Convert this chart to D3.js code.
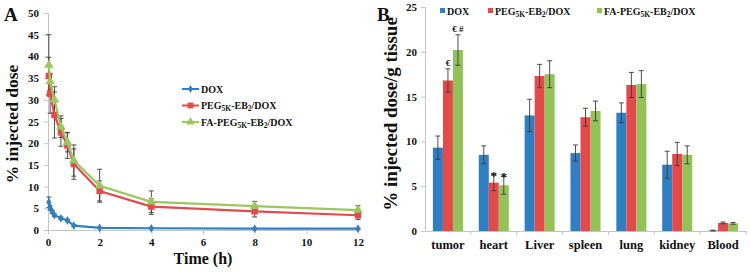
<!DOCTYPE html>
<html>
<head>
<meta charset="utf-8">
<script src="https://cdnjs.cloudflare.com/ajax/libs/d3/7.8.5/d3.min.js"></script>
<style>
  body { margin: 0; background: #fff; }
</style>
</head>
<body>
<svg id="chart" width="750" height="272"></svg>
<script>
// ---- Panel A data: % injected dose vs time ----
const timesDox = [0.033, 0.083, 0.167, 0.25, 0.5, 0.75, 1, 2, 4, 8, 12];
const doxA = [6.4, 5.1, 4.2, 3.4, 2.7, 2.2, 1.0, 0.5, 0.4, 0.3, 0.3];
const doxAErr = [1.2, 0.5, 0.4, 0.3, 0.3, 0.2, 0.2, 0.1, 0.1, 0.1, 0.1];
const timesPeg = [0.033, 0.083, 0.25, 0.5, 0.75, 1, 2, 4, 8, 12];
const pegA = [35.5, 31.4, 26.5, 22.5, 19.5, 15.2, 9.0, 5.4, 4.3, 3.4];
const pegAErr = [4.3, 4.5, 5.3, 3.2, 3.0, 3.5, 2.3, 1.8, 1.3, 1.0];
const faA = [38.0, 34.2, 30.0, 23.8, 20.2, 16.0, 10.2, 6.5, 5.5, 4.6];
const faAErr = [7.0, 1.8, 3.0, 2.5, 2.2, 3.6, 3.8, 2.5, 1.1, 1.0];
const yTicksA = [0, 5, 10, 15, 20, 25, 30, 35, 40, 45, 50];
const xTicksA = [0, 2, 4, 6, 8, 10, 12];

// ---- Panel B data: tissue distribution ----
const tissues = ["tumor", "heart", "Liver", "spleen", "lung", "kidney", "Blood"];
const doxB = [9.3, 8.5, 12.9, 8.7, 13.2, 7.4, 0.05];
const doxBErr = [1.3, 1.0, 1.8, 0.9, 1.1, 1.5, 0.05];
const pegB = [16.8, 5.4, 17.3, 12.7, 16.3, 8.6, 0.9];
const pegBErr = [1.3, 0.9, 1.3, 1.0, 1.4, 1.3, 0.1];
const faB = [20.2, 5.1, 17.5, 13.4, 16.4, 8.5, 0.85];
const faBErr = [1.7, 1.0, 1.5, 1.1, 1.5, 1.0, 0.1];
const yTicksB = [0, 5, 10, 15, 20, 25];
const marks = [
  {tissue: "tumor", series: "peg", label: "€", gap: -3},
  {tissue: "tumor", series: "fa", label: "€ #", gap: -3},
  {tissue: "heart", series: "peg", label: "*", gap: 5},
  {tissue: "heart", series: "fa", label: "*", gap: 5}
];

const blue = "#2f7fc2", red = "#e34a4c", green = "#93c259";
const lineGreen = "#9cc65e";
const gray = "#c4c4c4", errColor = "#3a3a3a";
const serif = "Liberation Serif";

const svg = d3.select("#chart");

// every text node gets the serif face explicitly
function txt(parent, size) {
  return parent.append("text")
    .attr("font-family", serif).attr("font-weight", "bold")
    .attr("font-size", size).attr("fill", "#111");
}

// legend label with subscripts: parts = [[text, isSub], ...]
function richText(sel, parts, size) {
  parts.forEach(([t, sub]) => {
    sel.append("tspan")
      .attr("font-size", sub ? size * 0.75 : size)
      .attr("baseline-shift", sub ? "-25%" : null)
      .text(t);
  });
}
const labelParts = {
  dox: [["DOX", false]],
  peg: [["PEG", false], ["5K", true], ["-EB", false], ["2", true], ["/DOX", false]],
  fa: [["FA-PEG", false], ["5K", true], ["-EB", false], ["2", true], ["/DOX", false]]
};

function styleAxis(a, size) {
  a.selectAll("path, line").attr("stroke", gray);
  a.selectAll("text").attr("fill", "#111")
    .attr("font-family", serif).attr("font-weight", "bold").attr("font-size", size);
}

// ================= Panel A =================
const xA = d3.scaleLinear().domain([0, 12]).range([48, 358]);
const yA = d3.scaleLinear().domain([0, 50]).range([230, 13]);

const gA = svg.append("g");
const axA = gA.append("g").attr("transform", `translate(${xA(0)},0)`)
  .call(d3.axisLeft(yA).tickValues(yTicksA).tickSize(4).tickPadding(5));
const axAx = gA.append("g").attr("transform", `translate(0,${yA(0)})`)
  .call(d3.axisBottom(xA).tickValues(xTicksA).tickSize(4).tickPadding(4));
styleAxis(axA, 11);
styleAxis(axAx, 11);

const seriesA = [
  {key: "dox", t: timesDox, v: doxA, e: doxAErr, color: blue, shape: d3.symbolDiamond, size: 22},
  {key: "peg", t: timesPeg, v: pegA, e: pegAErr, color: red, shape: d3.symbolSquare, size: 42},
  {key: "fa", t: timesPeg, v: faA, e: faAErr, color: lineGreen, shape: d3.symbolTriangle, size: 40}
];

// error bars first
seriesA.forEach(s => {
  const pts = s.t.map((t, i) => ({t, v: s.v[i], e: s.e[i]}));
  const eb = gA.append("g");
  eb.selectAll("line.v").data(pts).join("line")
    .attr("x1", d => xA(d.t)).attr("x2", d => xA(d.t))
    .attr("y1", d => yA(d.v - d.e)).attr("y2", d => yA(d.v + d.e))
    .attr("stroke", errColor).attr("stroke-width", 0.9);
  [1, -1].forEach(sg => {
    eb.append("g").selectAll("line").data(pts).join("line")
      .attr("x1", d => xA(d.t) - 2.5).attr("x2", d => xA(d.t) + 2.5)
      .attr("y1", d => yA(d.v + sg * d.e))
      .attr("y2", d => yA(d.v + sg * d.e))
      .attr("stroke", errColor).attr("stroke-width", 0.9);
  });
});

const lineA = d3.line().x(d => xA(d.t)).y(d => yA(d.v));
seriesA.forEach(s => {
  const pts = s.t.map((t, i) => ({t, v: s.v[i]}));
  gA.append("path").datum(pts)
    .attr("fill", "none").attr("stroke", s.color).attr("stroke-width", 2.2)
    .attr("d", lineA);
  gA.append("g").selectAll("path").data(pts).join("path")
    .attr("transform", d => `translate(${xA(d.t)},${yA(d.v)})`)
    .attr("d", d3.symbol(s.shape, s.size))
    .attr("fill", s.color);
});

// legend A
seriesA.forEach((s, i) => {
  const y = 89 + i * 16.5;
  gA.append("line").attr("x1", 182).attr("x2", 199).attr("y1", y).attr("y2", y)
    .attr("stroke", s.color).attr("stroke-width", 2);
  gA.append("path").attr("transform", `translate(190.5,${y})`)
    .attr("d", d3.symbol(s.shape, s.size * 0.8)).attr("fill", s.color);
  const t = txt(gA, 10).attr("x", 201).attr("y", y + 3.5);
  richText(t, labelParts[s.key], 10);
});

txt(gA, 16).attr("x", 203).attr("y", 264).attr("text-anchor", "middle")
  .text("Time (h)");
txt(gA, 17.5).attr("transform", "translate(18,124) rotate(-90)")
  .attr("text-anchor", "middle").text("% injected dose");
txt(gA, 19).attr("x", 4).attr("y", 21).text("A");

// ================= Panel B =================
const keys = ["dox", "peg", "fa"];
const valsB = {dox: doxB, peg: pegB, fa: faB};
const errsB = {dox: doxBErr, peg: pegBErr, fa: faBErr};
const colB = {dox: blue, peg: red, fa: green};

const x0 = d3.scaleBand().domain(tissues).range([425, 746]);
const x1 = d3.scaleBand().domain(keys).range([0, x0.bandwidth()]).paddingOuter(0.79);
const yB = d3.scaleLinear().domain([0, 25]).range([231, 7]);

const gB = svg.append("g");
const axB = gB.append("g").attr("transform", `translate(${x0.range()[0]},0)`)
  .call(d3.axisLeft(yB).tickValues(yTicksB).tickSize(4).tickPadding(4));
const axBx = gB.append("g").attr("transform", `translate(0,${yB(0)})`)
  .call(d3.axisBottom(x0).tickSize(0).tickPadding(9));
axBx.selectAll(".tick").append("line")
  .attr("x1", x0.bandwidth() / 2).attr("x2", x0.bandwidth() / 2)
  .attr("y1", 0).attr("y2", 4);
styleAxis(axB, 11);
styleAxis(axBx, 12.5);

const rows = tissues.map((t, i) => ({tissue: t, i}));
const groups = gB.selectAll("g.grp").data(rows).join("g")
  .attr("class", "grp")
  .attr("transform", d => `translate(${x0(d.tissue)},0)`);
keys.forEach(k => {
  groups.append("rect")
    .attr("x", x1(k)).attr("width", x1.bandwidth())
    .attr("y", d => yB(valsB[k][d.i]))
    .attr("height", d => yB(0) - yB(valsB[k][d.i]))
    .attr("fill", colB[k]);
});
keys.forEach(k => {
  const cx = x1(k) + x1.bandwidth() / 2;
  groups.append("line")
    .attr("x1", cx).attr("x2", cx)
    .attr("y1", d => yB(valsB[k][d.i] - errsB[k][d.i]))
    .attr("y2", d => yB(valsB[k][d.i] + errsB[k][d.i]))
    .attr("stroke", errColor).attr("stroke-width", 0.9);
  [1, -1].forEach(sg => {
    groups.append("line")
      .attr("x1", cx - 2.5).attr("x2", cx + 2.5)
      .attr("y1", d => yB(valsB[k][d.i] + sg * errsB[k][d.i]))
      .attr("y2", d => yB(valsB[k][d.i] + sg * errsB[k][d.i]))
      .attr("stroke", errColor).attr("stroke-width", 0.9);
  });
});

// significance marks
marks.forEach(m => {
  const i = tissues.indexOf(m.tissue);
  const top = valsB[m.series][i] + errsB[m.series][i];
  txt(gB, m.label === "*" ? 13 : 9)
    .attr("x", x0(m.tissue) + x1(m.series) + x1.bandwidth() / 2)
    .attr("y", yB(top) + m.gap)
    .attr("text-anchor", "middle")
    .text(m.label);
});

// legend B
const legXB = {dox: 440, peg: 488, fa: 597};
keys.forEach(k => {
  gB.append("rect").attr("x", legXB[k]).attr("y", 8).attr("width", 5).attr("height", 5)
    .attr("fill", colB[k]);
  const t = txt(gB, 10).attr("x", legXB[k] + 7).attr("y", 14.5);
  richText(t, labelParts[k], 10);
});

txt(gB, 19).attr("transform", "translate(397,114) rotate(-90)")
  .attr("text-anchor", "middle").text("% injected dose/g tissue");
txt(gB, 19).attr("x", 377).attr("y", 21).text("B");
</script>
</body>
</html>
